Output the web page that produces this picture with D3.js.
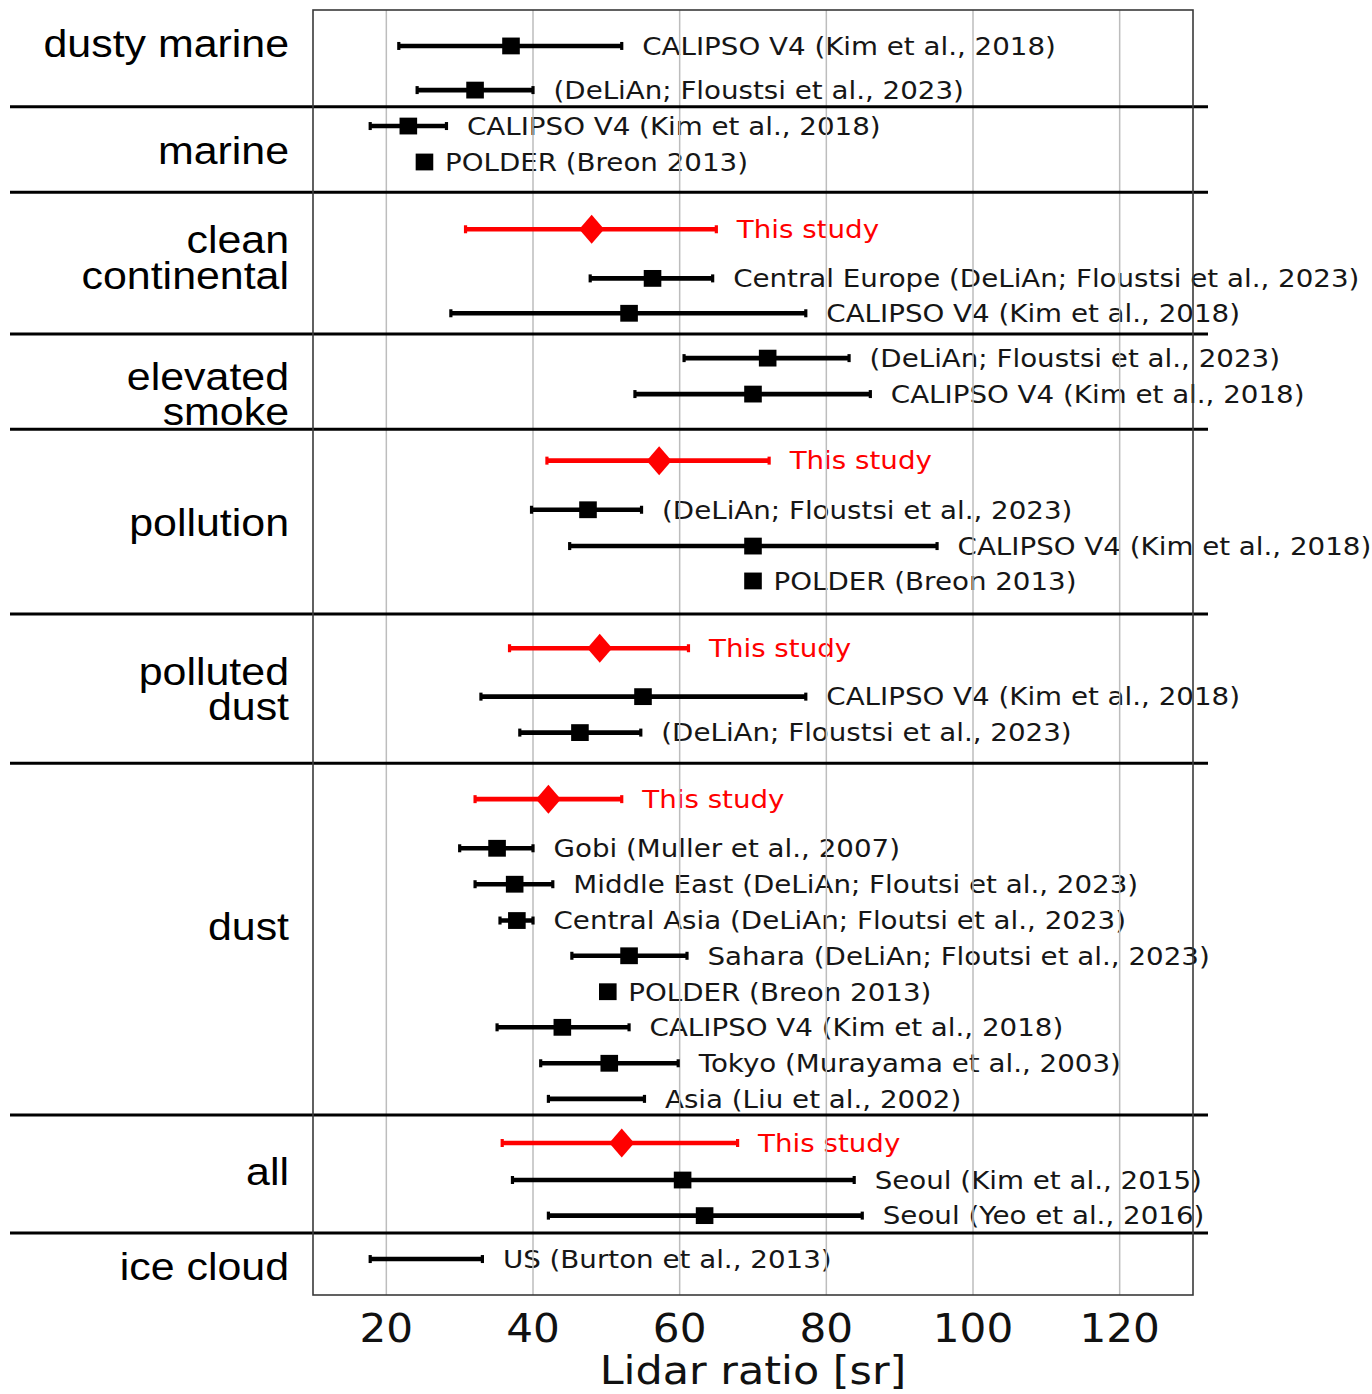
<!DOCTYPE html>
<html>
<head>
<meta charset="utf-8">
<script src="https://cdn.jsdelivr.net/npm/d3@7"></script>
<style>
  body { margin: 0; background: #fff; }
  svg { display: block; }
</style>
</head>
<body>
<div id="chart"></div>
<script>
// aerosol groups, top to bottom
const groupLines = [["dusty marine"], ["marine"], ["clean", "continental"], ["elevated", "smoke"],
    ["pollution"], ["polluted", "dust"], ["dust"], ["all"], ["ice cloud"]];
// row (in row units) of the first label line baseline
const groupLabelRow = [1.32, 4.33, 6.83, 10.67, 14.79, 18.96, 26.12, 33.01, 35.67];
// horizontal lines between groups
const separatorRows = [2.72, 5.12, 9.10, 11.78, 16.97, 21.16, 31.04, 34.36];

// one entry per reference / study
const entryRow = [1.01, 2.25, 3.26, 4.27, 6.16, 7.54, 8.52, 9.78, 10.79, 12.66, 14.04, 15.06, 16.04,
    17.93, 19.29, 20.30, 22.17, 23.55, 24.56, 25.58, 26.57, 27.58, 28.58, 29.59, 30.59,
    31.83, 32.87, 33.87, 35.09];
const entryLabel = [
    "CALIPSO V4 (Kim et al., 2018)", "(DeLiAn; Floustsi et al., 2023)",
    "CALIPSO V4 (Kim et al., 2018)", "POLDER (Breon 2013)",
    "This study", "Central Europe (DeLiAn; Floustsi et al., 2023)", "CALIPSO V4 (Kim et al., 2018)",
    "(DeLiAn; Floustsi et al., 2023)", "CALIPSO V4 (Kim et al., 2018)",
    "This study", "(DeLiAn; Floustsi et al., 2023)", "CALIPSO V4 (Kim et al., 2018)", "POLDER (Breon 2013)",
    "This study", "CALIPSO V4 (Kim et al., 2018)", "(DeLiAn; Floustsi et al., 2023)",
    "This study", "Gobi (Muller et al., 2007)", "Middle East (DeLiAn; Floutsi et al., 2023)",
    "Central Asia (DeLiAn; Floutsi et al., 2023)", "Sahara (DeLiAn; Floutsi et al., 2023)",
    "POLDER (Breon 2013)", "CALIPSO V4 (Kim et al., 2018)", "Tokyo (Murayama et al., 2003)",
    "Asia (Liu et al., 2002)",
    "This study", "Seoul (Kim et al., 2015)", "Seoul (Yeo et al., 2016)",
    "US (Burton et al., 2013)"];
const entryLow = [21.7, 24.2, 17.8, null, 30.8, 47.8, 28.8, 60.6, 53.9, 41.9, 39.8, 45.0, null,
    36.8, 32.9, 38.2, 32.1, 30.0, 32.1, 35.5, 45.3, null, 35.1, 41.05, 42.1,
    35.8, 37.2, 42.1, 17.8];
const entryMean = [37.0, 32.1, 23.0, 25.2, 48.0, 56.3, 53.1, 72.0, 70.0, 57.2, 47.5, 70.0, 70.0,
    49.1, 55.0, 46.4, 42.1, 35.1, 37.5, 37.8, 53.1, 50.2, 44.0, 50.4, null,
    52.1, 60.4, 63.4, null];
const entryHigh = [52.1, 40.0, 28.2, null, 65.0, 64.5, 77.2, 83.1, 86.0, 72.2, 54.8, 95.1, null,
    61.2, 77.2, 54.7, 52.1, 40.0, 42.7, 40.0, 61.0, null, 53.1, 59.8, 55.2,
    67.9, 83.8, 84.9, 33.1];

const xTicks = [20, 40, 60, 80, 100, 120];
const xLabel = "Lidar ratio [sr]";

/** Error bar chart of lidar ratios per aerosol type */
class LidarChart {

    constructor() {
        this.width = 1372;
        this.height = 1394;
        this.left = 313;
        this.right = 1193;
        this.top = 10;
        this.bottom = 1295;
        this.stretch = 1.1; // text in the figure is a bit wide

        this.x = d3.scaleLinear().domain([10, 130]).range([this.left, this.right]);
        this.y = d3.scaleLinear().domain([0, 36.1]).range([this.top, this.bottom]);

        this.entries = entryRow.map((r, i) => ({
            row: r,
            label: entryLabel[i],
            lo: entryLow[i],
            mean: entryMean[i],
            hi: entryHigh[i],
            study: entryLabel[i] === "This study"
        }));
    }

    draw() {
        let svg = d3.select("#chart").append("svg")
            .attr("width", this.width)
            .attr("height", this.height);
        let x = this.x, y = this.y, k = this.stretch;

        // annotations first, grid and frame go over them
        svg.append("g").selectAll("text")
            .data(this.entries)
            .join("text")
            .attr("transform", d => `translate(${x(d.hi != null ? d.hi : d.mean) + 20.5},${y(d.row)}) scale(${k},1)`)
            .attr("dy", "0.35em")
            .attr("font-family", "DejaVu Sans")
            .attr("font-size", 25.2)
            .attr("fill", d => d.study ? "#ff0000" : "#161616")
            .text(d => d.label);

        // grid
        svg.append("g").selectAll("line")
            .data(xTicks)
            .join("line")
            .attr("x1", d => x(d)).attr("x2", d => x(d))
            .attr("y1", this.top).attr("y2", this.bottom)
            .attr("stroke", "#bdbdbd")
            .attr("stroke-width", 1.5);

        // group separators run out into the left margin
        svg.append("g").selectAll("line")
            .data(separatorRows)
            .join("line")
            .attr("x1", 10).attr("x2", 1208)
            .attr("y1", d => y(d)).attr("y2", d => y(d))
            .attr("stroke", "#000")
            .attr("stroke-width", 3);

        // frame
        svg.append("rect")
            .attr("x", this.left).attr("y", this.top)
            .attr("width", this.right - this.left)
            .attr("height", this.bottom - this.top)
            .attr("fill", "none")
            .attr("stroke", "#3a3a3a")
            .attr("stroke-width", 1.6);

        // group labels
        let labels = svg.append("g").selectAll("text")
            .data(groupLines)
            .join("text")
            .attr("transform", (d, i) => `translate(289,${y(groupLabelRow[i])}) scale(${k},1)`)
            .attr("font-family", "Liberation Sans, Arial, sans-serif")
            .attr("font-size", 39)
            .attr("text-anchor", "end")
            .attr("fill", "#000");
        labels.selectAll("tspan")
            .data(d => d)
            .join("tspan")
            .attr("x", 0)
            .attr("y", (d, i) => i * 35.5)
            .text(d => d);

        // error bars
        let bars = this.entries.filter(d => d.lo != null);
        let barG = svg.append("g");
        barG.selectAll("line.bar")
            .data(bars)
            .join("line")
            .attr("class", "bar")
            .attr("x1", d => x(d.lo)).attr("x2", d => x(d.hi))
            .attr("y1", d => y(d.row)).attr("y2", d => y(d.row))
            .attr("stroke", d => d.study ? "#ff0000" : "#000")
            .attr("stroke-width", 4.6);
        let caps = bars.flatMap(d => [{v: d.lo, d: d}, {v: d.hi, d: d}]);
        barG.selectAll("line.cap")
            .data(caps)
            .join("line")
            .attr("class", "cap")
            .attr("x1", c => x(c.v)).attr("x2", c => x(c.v))
            .attr("y1", c => y(c.d.row) - 4).attr("y2", c => y(c.d.row) + 4)
            .attr("stroke", c => c.d.study ? "#ff0000" : "#000")
            .attr("stroke-width", 3.2);

        // markers
        let marks = this.entries.filter(d => d.mean != null);
        svg.append("g").selectAll("rect")
            .data(marks.filter(d => !d.study))
            .join("rect")
            .attr("x", d => x(d.mean) - 8.8)
            .attr("y", d => y(d.row) - 8.4)
            .attr("width", 17.6)
            .attr("height", 16.8)
            .attr("fill", "#000");
        svg.append("g").selectAll("path")
            .data(marks.filter(d => d.study))
            .join("path")
            .attr("d", d => {
                let cx = x(d.mean), cy = y(d.row);
                return `M${cx},${cy - 14.5}L${cx + 12.5},${cy}L${cx},${cy + 14.5}L${cx - 12.5},${cy}Z`;
            })
            .attr("fill", "#ff0000");

        // x axis text
        svg.append("g").selectAll("text")
            .data(xTicks)
            .join("text")
            .attr("transform", d => `translate(${x(d)},1342) scale(${k * 0.97},1)`)
            .attr("text-anchor", "middle")
            .attr("font-family", "DejaVu Sans")
            .attr("font-size", 39.5)
            .attr("fill", "#111")
            .text(d => d);
        svg.append("text")
            .attr("transform", `translate(${(this.left + this.right) / 2},1384) scale(${k},1)`)
            .attr("text-anchor", "middle")
            .attr("font-family", "DejaVu Sans")
            .attr("font-size", 39)
            .attr("fill", "#111")
            .text(xLabel);
    }
}

let chart = new LidarChart();
chart.draw();
</script>
</body>
</html>
